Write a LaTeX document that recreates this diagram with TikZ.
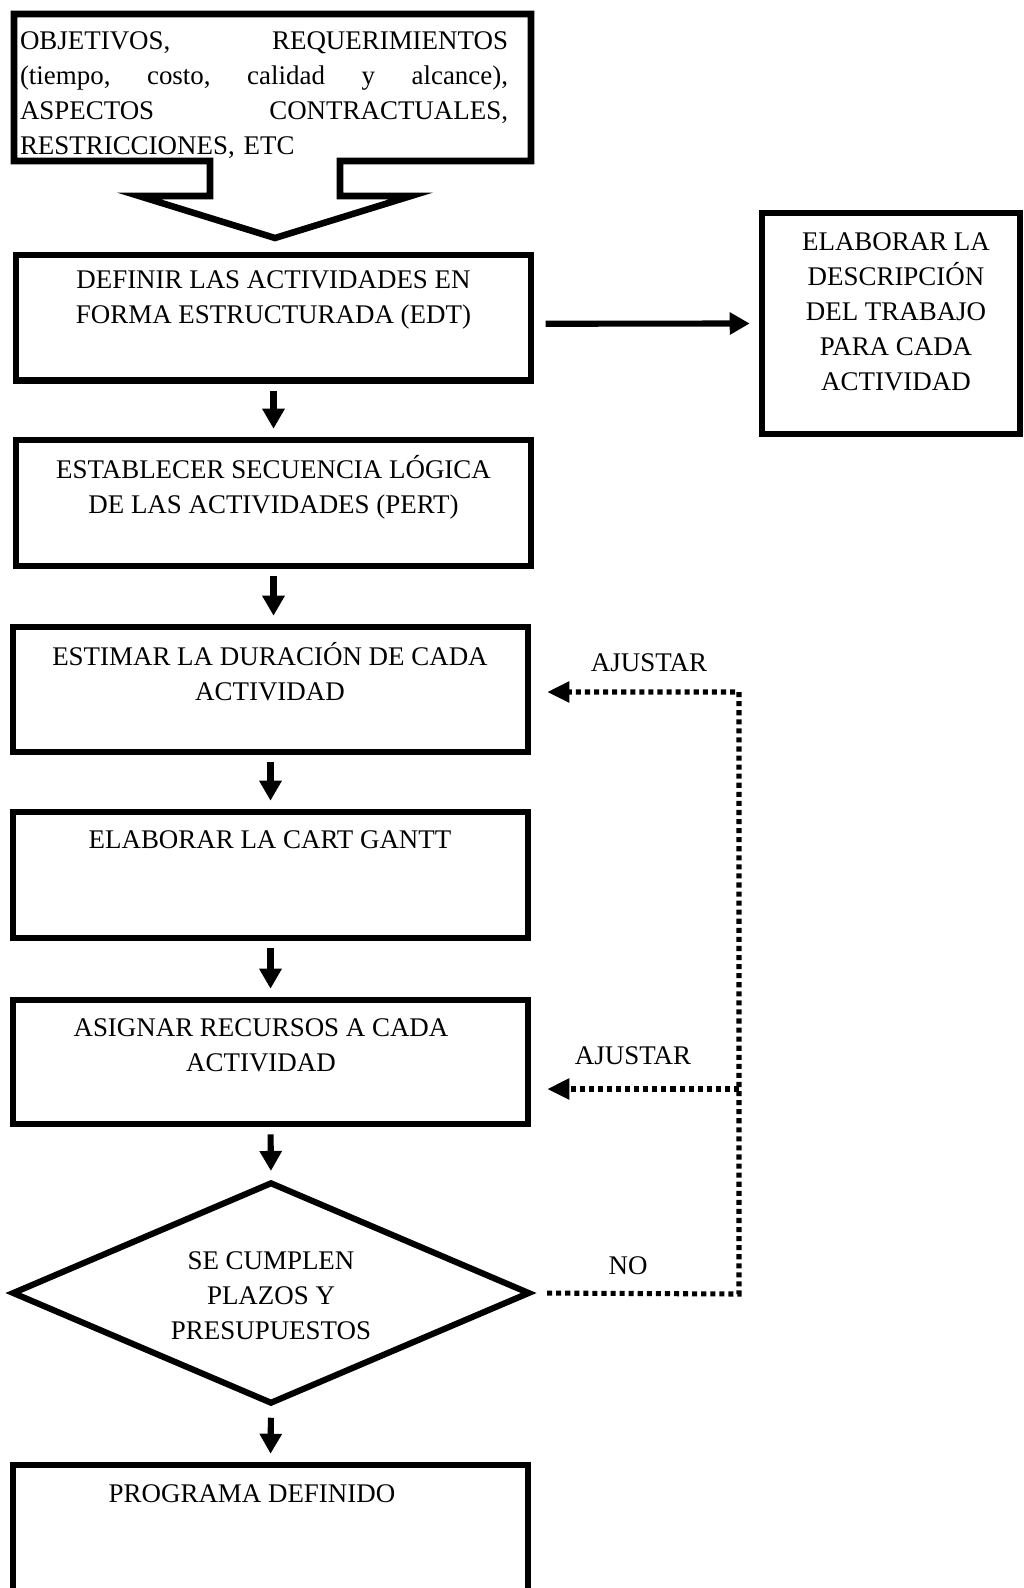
\documentclass[tikz,border=0pt]{standalone}
\usepackage{fontspec}
\setmainfont{Liberation Serif}
\usetikzlibrary{arrows.meta,calc,fit,shapes.geometric}

\begin{document}
\begin{tikzpicture}[x=0.75pt,y=-0.75pt,
  box/.style={draw, line width=4.9pt, inner sep=0pt},
  lbl/.style={font=\fontsize{20.2}{26.25}\selectfont, align=center, inner sep=0pt},
  flow/.style={line width=4.6pt, -{Triangle[length=15pt,width=16pt]},
               shorten <=5.25pt, shorten >=6pt},
  loopline/.style={line width=3.8pt, dash pattern=on 3.8pt off 3pt},
  looparrow/.style={loopline, -{Triangle[length=16.5pt,width=15pt]}},
  decision/.style={draw, shape=diamond, line width=4.6pt, inner sep=0pt,
                   minimum width=388.5pt, minimum height=166.5pt}]

\clip (0,0) rectangle (1024,1588);
\fill[white] (0,0) rectangle (1024,1588);

% input box joined to its block arrow
\draw[line width=4.9pt, line join=miter]
  (210,161) -- (14,161) -- (14,14) -- (531,14) -- (531,161) -- (340,161)
  -- (340,196) -- (411,196) -- (275,238) -- (139,196) -- (210,196) -- cycle;
\coordinate (tip) at (275,238);
\node[lbl, align=left, text width=366pt] (b1) at (264,95)
  {OBJETIVOS,\hfill REQUERIMIENTOS\\
   (tiempo,\hfill costo,\hfill calidad\hfill y\hfill alcance),\\
   ASPECTOS\hfill CONTRACTUALES,\\
   RESTRICCIONES, ETC};

% process boxes
\node[box, fit={(16,255) (531,380.5)}] (b2) {};
\node[lbl] (t2) at (273.5,300) {DEFINIR LAS ACTIVIDADES EN\\FORMA ESTRUCTURADA (EDT)};

\node[box, fit={(762,213) (1020,434)}] (r) {};
\node[lbl] (tr) at (896,311.5) {ELABORAR LA\\DESCRIPCIÓN\\DEL TRABAJO\\PARA CADA\\ACTIVIDAD};

\node[box, fit={(16,440) (531,566)}] (b3) {};
\node[lbl] (t3) at (273.5,487) {ESTABLECER SECUENCIA LÓGICA\\DE LAS ACTIVIDADES (PERT)};

\node[box, fit={(13,627) (528,752)}] (b4) {};
\node[lbl] (t4) at (270,672) {ESTIMAR LA DURACIÓN DE CADA\\ACTIVIDAD};

\node[box, fit={(13,812) (528,938)}] (b5) {};
\node[lbl] (t5) at (270,840) {ELABORAR LA CART GANTT};

\node[box, fit={(13,1000) (528,1124)}] (b6) {};
\node[lbl] (t6) at (261,1045.5) {ASIGNAR RECURSOS A CADA\\ACTIVIDAD};

\node[decision] (d) at (271,1293) {};
\node[lbl] (td) at (271,1295.5) {SE CUMPLEN\\PLAZOS Y\\PRESUPUESTOS};

\node[box, fit={(13,1465) (528,1620)}] (b7) {};
\node[lbl] (t7) at (252,1494) {PROGRAMA DEFINIDO};

% main flow
\draw[flow, shorten <=8.5pt, shorten >=6.75pt] ([yshift=-4.5pt]b2.east) -- (r.west);
\draw[flow] (b2.south) -- (b3.north);
\draw[flow] (b3.south) -- (b3.south |- b4.north);
\draw[flow] (b4.south) -- (b5.north);
\draw[flow] (b5.south) -- (b6.north);
\draw[flow] (b6.south) -- (d.north);
\draw[flow, shorten <=8pt] (d.south) -- (b7.north);

% adjustment loop
\coordinate (c1) at (739,1294);
\coordinate (c2) at (739,692);
\coordinate (c3) at (739,1089);
\draw[looparrow, shorten <=10.5pt, shorten >=12pt]
  (d.east) -- (c1) -- (c2) -- (b4.east |- c2);
\draw[looparrow, shorten >=12pt] (c3) -- (b6.east |- c3);

\node[lbl] (a1) at (649,663) {AJUSTAR};
\node[lbl] (a2) at (633,1056) {AJUSTAR};
\node[lbl] (no) at (628,1266) {NO};
\end{tikzpicture}
\end{document}
